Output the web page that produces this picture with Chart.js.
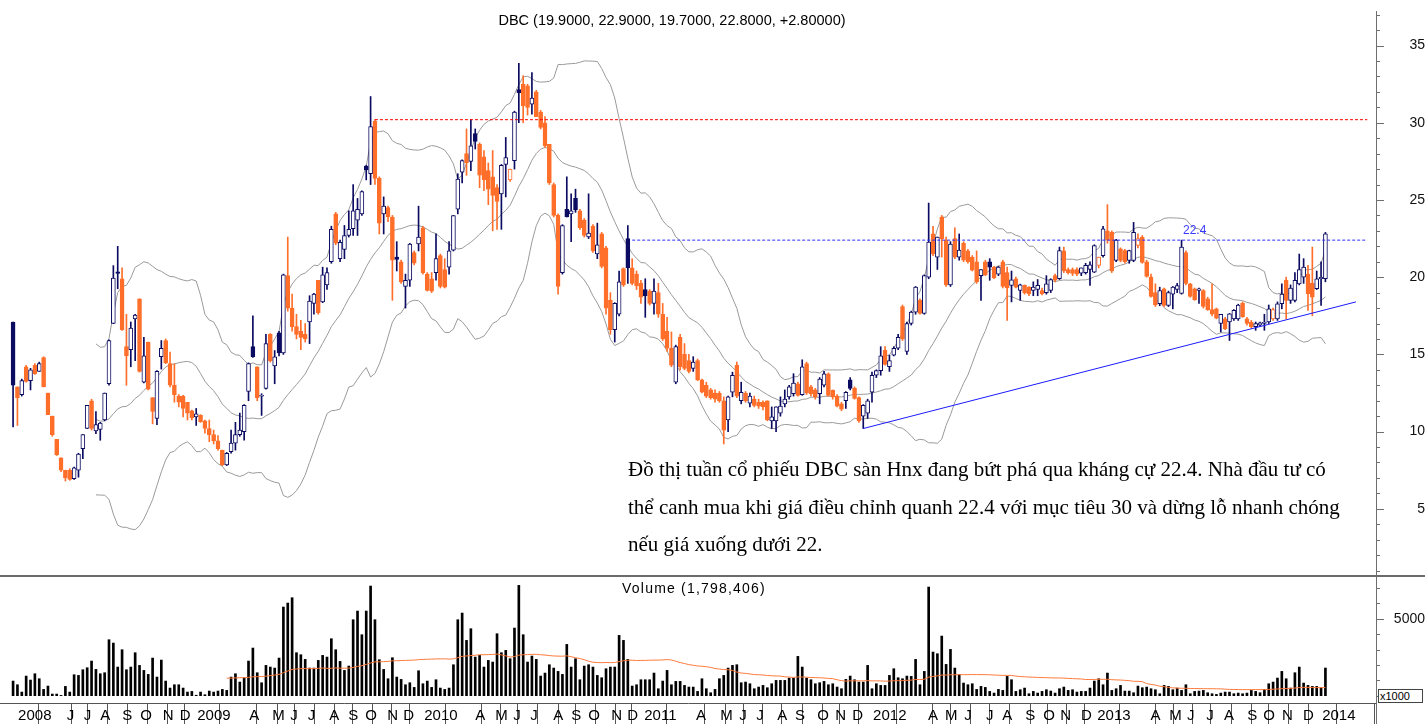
<!DOCTYPE html>
<html>
<head>
<meta charset="utf-8">
<script src="https://cdn.jsdelivr.net/npm/chart.js@4.4.1/dist/chart.umd.min.js"></script>
<style>
  body { margin: 0; background: #fff; width: 1425px; height: 724px; overflow: hidden; position: relative;
         font-family: Arial, "Liberation Sans", sans-serif; }
  canvas { position: absolute; left: 0; }
  #priceChart { top: 0; }
  #volChart { top: 577px; }
  .sep { position: absolute; left: 0; top: 575px; width: 1425px; height: 2px; background: #6b6b6b; }
  .txt { position: absolute; white-space: nowrap; color: #000; }
  #title { left: 372px; width: 600px; top: 11px; font-size: 14.5px; line-height: 18px; text-align: center; }
  #volTitle { left: 544px; width: 300px; top: 579px; font-size: 14px; line-height: 18px; text-align: center; letter-spacing: 1.2px; }
  #lvl { left: 1183px; top: 223px; font-size: 12px; line-height: 14px; color: #3a3aff; }
  #note { left: 628px; top: 451px; font-family: "Liberation Serif", "Times New Roman", serif; font-size: 21px; line-height: 37.5px; }
  #unit { left: 1378px; top: 689px; width: 42px; height: 12px; border: 1px solid #444; background: #fff;
          font-size: 11px; line-height: 12px; padding-left: 1px; }
</style>
</head>
<body>
<canvas id="priceChart" width="1425" height="576"></canvas>
<div class="sep"></div>
<canvas id="volChart" width="1425" height="147"></canvas>
<div class="txt" id="title">DBC (19.9000, 22.9000, 19.7000, 22.8000, +2.80000)</div>
<div class="txt" id="volTitle">Volume (1,798,406)</div>
<div class="txt" id="lvl">22.4</div>
<div class="txt" id="note">Đồ thị tuần cổ phiếu DBC sàn Hnx đang bứt phá qua kháng cự 22.4. Nhà đầu tư có<br>thể canh mua khi giá điều chỉnh quanh 22.4 với mục tiêu 30 và dừng lỗ nhanh chóng<br>nếu giá xuống dưới 22.</div>
<div class="txt" id="unit">x1000</div>
<script>
// weekly bars, DBC, spring 2008 -> Jan 2014
const open = [
  17.1,12.9,12.4,14.2,13.3,14.3,13.9,14.8,12.5,11.0,9.5,8.3,7.5,7.5,6.95,7.5,8.9,10.2,12.0,10.05,
  10.15,10.75,13.1,17.0,20.35,19.9,15.5,15.3,17.3,18.6,13.2,15.8,12.2,10.85,14.85,15.9,14.4,13.0,12.3,12.3,
  11.9,11.35,10.95,11.05,10.7,10.2,9.8,9.4,8.8,7.85,8.7,9.25,9.8,10.0,12.6,15.5,14.2,12.3,12.8,16.3,
  14.25,16.4,15.1,20.1,18.0,16.8,16.5,16.3,17.1,18.3,19.8,18.4,19.5,21.0,24.1,21.2,21.8,22.7,23.15,23.7,
  24.1,27.2,26.7,30.1,26.4,24.1,24.5,23.9,21.3,21.0,19.4,19.8,21.6,22.15,23.2,20.2,19.9,20.3,21.4,20.5,
  20.65,21.75,24.4,26.8,28.0,27.5,29.3,28.6,27.8,26.9,26.5,25.8,25.4,27.3,26.3,27.55,32.15,32.5,32.4,31.2,
  32.0,30.7,30.0,28.6,26.0,24.0,20.3,24.4,24.1,25.1,24.3,23.7,22.6,23.3,21.5,22.8,21.9,18.5,16.6,17.6,
  20.55,22.5,20.6,20.2,19.6,19.2,19.1,18.3,19.0,17.6,16.5,15.4,13.2,16.1,15.0,14.6,14.1,14.6,13.35,13.0,
  12.7,12.5,12.5,12.0,10.75,12.55,14.3,12.0,12.5,11.85,12.1,11.9,11.9,12.0,10.7,10.7,11.2,11.8,12.25,12.45,
  13.1,12.4,14.4,12.9,12.7,12.45,13.0,13.75,12.67,12.3,11.8,12.0,13.35,12.8,12.2,11.0,11.2,12.55,13.65,13.95,
  15.26,14.2,14.95,15.4,18.1,15.2,17.0,17.74,18.5,17.65,20.0,22.8,21.3,23.9,22.4,19.5,22.5,21.3,22.2,21.7,
  21.3,21.0,20.1,21.0,21.0,20.65,20.2,21.0,20.3,19.47,19.9,19.14,19.47,19.36,19.14,19.2,19.14,19.0,19.14,20.1,
  19.9,21.7,20.5,20.5,20.5,20.26,20.3,20.5,20.33,20.76,21.4,23.0,22.9,21.08,21.84,21.73,21.08,21.08,22.05,22.6,
  21.0,20.0,19.0,18.28,19.25,18.17,18.9,19.2,18.95,21.6,19.57,19.25,19.14,19.14,18.6,17.9,17.95,17.0,17.3,17.1,
  17.3,17.3,18.3,17.3,17.1,16.8,16.9,17.0,17.1,17.3,17.3,18.28,19.8,18.5,18.5,19.57,20.0,20.2,19.6,19.25,
  19.9,19.9
];
const high = [
  17.1,12.9,13.4,14.3,14.1,14.4,14.5,14.85,12.5,11.0,9.5,8.3,7.5,7.6,7.7,8.6,9.8,11.7,12.1,11.3,
  10.6,12.5,15.95,20.75,22.0,20.6,17.6,17.1,17.6,18.6,16.1,15.8,12.2,13.95,15.9,16.0,15.15,14.4,12.4,12.35,
  11.9,11.4,11.5,11.1,10.75,10.75,10.1,9.75,8.8,8.65,10.1,10.6,11.2,11.75,14.45,17.5,14.2,12.45,16.3,16.35,
  15.25,16.5,20.2,22.6,18.9,17.6,17.2,17.0,18.8,18.95,19.8,20.65,20.6,23.3,24.2,22.4,23.35,24.3,26.0,25.1,
  25.6,27.25,31.7,30.2,26.5,25.2,24.6,24.0,22.3,21.1,20.2,22.2,21.7,24.6,23.3,20.3,20.3,22.8,21.5,21.2,
  22.3,24.0,26.7,27.6,29.6,30.2,29.6,28.7,28.2,27.4,28.2,26.0,27.3,29.05,27.0,30.75,33.85,33.05,32.5,33.25,
  32.1,30.8,30.4,28.6,26.1,24.1,23.4,26.5,25.4,25.7,24.4,23.8,25.4,23.4,23.5,22.9,22.0,19.0,18.35,20.4,
  20.6,23.35,21.2,20.4,19.8,19.9,19.2,19.9,19.6,18.3,17.4,16.45,15.6,16.3,15.7,15.0,14.85,14.7,13.4,13.2,
  12.8,12.7,12.6,12.25,12.3,13.85,14.5,13.2,12.6,12.5,12.3,12.1,12.0,12.0,11.6,11.6,12.25,12.7,13.0,13.75,
  13.2,14.65,14.5,13.0,12.8,13.5,13.9,13.8,12.7,12.4,11.9,12.6,13.5,12.9,12.25,11.75,12.1,13.85,14.0,15.5,
  15.5,14.95,15.5,16.3,18.2,17.1,17.8,19.4,18.6,20.15,24.8,23.3,22.6,24.0,22.6,22.3,23.2,22.8,22.3,21.8,
  21.4,21.7,20.5,21.1,21.2,20.7,20.7,21.1,20.65,20.4,20.0,19.55,19.5,19.4,19.7,19.85,19.3,20.1,19.9,20.2,
  21.95,21.95,20.6,20.6,20.6,20.6,20.9,21.0,22.1,21.3,23.3,24.7,23.0,22.45,21.9,21.8,21.75,23.55,22.8,22.7,
  21.1,20.2,19.57,19.35,19.3,19.1,19.4,19.6,22.4,21.7,19.6,19.3,19.3,19.2,18.7,19.57,18.0,17.6,17.4,17.65,
  17.9,18.25,18.4,17.4,17.2,17.1,17.1,17.6,18.2,18.0,18.4,19.57,20.0,19.5,20.3,21.5,21.2,20.76,21.95,20.4,
  21.0,22.9
];
const low = [
  10.3,10.4,12.3,13.2,12.7,13.7,13.9,12.9,11.1,9.7,8.45,7.4,6.8,6.85,6.9,7.05,8.25,10.2,10.1,9.87,
  9.44,10.7,13.0,16.99,19.25,16.55,13.0,14.2,14.6,13.85,13.15,12.7,10.5,10.45,14.05,14.4,12.9,11.9,11.6,10.95,
  10.75,10.75,10.4,10.6,9.9,9.35,9.2,8.8,7.8,7.8,8.6,8.8,9.7,9.45,12.0,14.8,12.0,11.05,12.75,14.5,
  13.1,14.9,15.0,17.8,16.5,16.0,15.3,15.8,15.7,17.6,17.6,18.35,19.2,20.9,22.1,21.0,21.2,22.6,22.7,22.7,
  24.0,26.3,26.0,26.0,22.8,22.8,23.6,18.5,20.4,19.6,18.0,19.4,20.8,21.7,20.2,19.1,19.0,19.8,19.3,19.3,
  20.2,21.7,24.1,26.1,26.6,26.9,28.3,25.8,25.6,24.7,23.0,23.1,23.1,25.2,26.2,27.0,30.0,30.0,30.5,30.55,
  30.4,29.6,28.4,26.0,23.9,18.9,20.2,23.9,22.3,24.2,23.1,22.6,22.5,21.6,21.2,20.6,17.6,16.3,15.8,17.5,
  19.4,19.6,19.5,19.2,18.3,17.4,18.2,17.6,17.4,15.9,15.2,14.2,13.1,14.0,14.0,13.8,13.9,13.3,12.5,12.2,
  12.1,11.9,11.9,9.2,10.0,12.25,12.2,11.8,11.9,11.6,11.6,11.5,11.4,10.7,10.2,10.0,11.0,11.6,12.1,12.3,
  12.3,12.35,12.4,12.3,12.1,11.8,12.9,12.3,12.1,11.6,11.35,11.5,12.7,12.1,10.6,10.2,10.85,11.9,13.5,13.65,
  14.3,13.9,14.9,15.3,15.9,15.0,16.9,17.6,17.6,17.6,19.9,21.4,20.5,21.3,19.4,19.4,21.2,21.1,21.0,20.9,
  20.4,19.6,18.5,20.1,19.8,19.9,20.1,19.3,17.2,18.4,19.3,18.5,18.9,18.8,18.8,18.8,18.85,18.9,19.0,19.7,
  19.85,20.3,20.2,20.1,20.1,20.1,20.2,19.47,20.3,20.6,21.3,22.2,20.3,21.0,21.0,20.9,20.9,21.0,21.9,20.9,
  20.0,18.7,18.1,18.15,18.1,18.1,17.95,19.0,18.9,19.5,18.7,18.5,18.3,18.0,17.85,17.5,17.3,16.45,16.6,15.9,
  17.2,17.2,17.4,16.9,16.7,16.56,16.8,16.56,17.0,17.2,17.2,17.95,17.3,18.3,18.4,19.5,19.6,17.85,17.5,19.2,
  18.17,19.7
];
const close = [
  13.0,12.2,13.3,13.25,14.0,13.75,14.4,12.9,11.1,9.8,8.5,7.5,7.0,6.9,7.65,8.55,9.8,11.7,10.2,10.45,
  10.55,12.5,15.9,19.95,20.25,16.6,14.9,16.7,17.55,13.9,14.9,12.75,11.3,13.9,15.4,14.45,13.0,12.4,11.9,11.5,
  11.2,10.9,11.15,10.65,10.2,9.8,9.4,8.9,7.85,8.6,9.25,9.8,10.1,11.7,14.4,14.85,12.2,12.35,15.7,14.6,
  14.85,15.1,20.15,18.0,16.8,16.3,16.1,16.0,18.45,18.9,17.7,20.15,20.3,23.1,22.2,22.25,22.7,23.1,24.3,24.4,
  25.55,26.95,29.75,26.4,23.5,24.6,23.9,21.1,21.15,19.7,19.8,22.15,20.9,22.6,20.3,19.15,19.1,21.2,19.4,19.35,
  21.7,23.99,26.35,27.55,27.4,28.5,28.8,26.6,26.3,25.7,25.3,24.9,27.25,27.75,27.0,30.7,31.95,31.1,31.0,31.6,
  30.4,29.7,28.5,26.1,24.0,19.4,23.35,23.9,24.3,24.35,23.2,22.7,22.85,21.7,22.1,20.7,18.0,16.6,18.3,19.7,
  19.5,20.6,19.6,19.45,18.7,18.8,18.3,19.1,17.6,16.0,15.4,14.3,15.5,14.2,14.1,13.9,14.5,13.35,12.55,12.3,
  12.2,12.1,12.0,10.1,12.25,13.65,12.3,12.55,12.0,12.3,11.7,11.65,11.6,10.75,10.95,11.6,11.65,12.1,12.9,13.15,
  12.35,14.2,12.5,12.45,12.25,13.4,13.75,12.35,12.25,11.65,11.45,12.55,12.8,12.15,10.7,11.7,12.0,13.65,13.95,14.9,
  14.35,14.6,15.4,16.1,16.0,17.0,17.74,19.36,17.65,20.1,22.27,21.5,22.6,22.5,19.5,22.15,21.3,21.75,21.1,21.0,
  20.45,19.7,20.5,20.15,20.65,19.95,20.65,19.4,19.3,19.83,19.36,19.5,19.0,18.93,19.36,19.47,18.93,19.57,19.85,19.8,
  21.73,20.4,20.3,20.25,20.2,20.6,20.76,20.8,22.05,21.3,23.13,22.4,20.4,22.4,21.08,21.0,21.73,22.9,22.5,20.95,
  20.05,18.75,18.2,19.14,18.17,19.0,19.36,19.45,21.95,19.6,18.75,18.55,19.25,18.1,17.9,17.6,17.35,17.6,16.66,17.63,
  17.85,18.2,17.45,17.0,16.8,17.0,17.05,17.1,17.95,17.9,18.28,18.9,18.5,19.3,19.8,20.5,20.65,18.93,18.7,19.9,
  20.0,22.8
];
// volume, thousands of shares
const volume = [
  950,712,236,1275,1015,1427,1102,409,626,106,106,20,604,236,1362,1318,1686,1816,2250,1708,
  1427,1492,3635,3418,1860,2986,1686,1860,2791,1968,1643,1384,2444,1210,2314,950,496,712,712,496,
  236,279,30,236,63,301,236,301,409,344,1210,1427,886,1167,2250,3094,1492,842,1968,1860,
  1795,2444,5757,6016,6363,2791,2661,2358,1795,1795,2293,2617,2509,3700,2986,2228,1643,1925,4934,5497,
  3960,5497,7121,4934,2336,1708,1102,2466,1210,1059,712,842,539,1621,777,950,539,1037,496,409,
  496,2011,4934,5367,3592,4350,2509,2617,1860,2293,2185,4025,2791,2942,2401,4393,7164,3960,2185,2574,
  2358,1275,1470,2011,1795,1578,1384,3332,1860,2401,1037,1925,2011,1860,1318,1167,1751,1860,1860,3917,
  3592,2358,626,712,1037,1037,1037,1470,453,950,1643,712,929,929,669,561,561,279,1102,453,
  193,409,1102,1318,1795,1968,2011,842,886,777,453,561,669,518,777,994,994,994,1145,1145,
  2553,1860,1145,1037,777,842,929,712,777,561,453,1059,1275,1037,886,886,1968,453,777,669,
  669,1318,1751,1167,1102,1275,1254,2358,712,1578,7056,2834,2726,3873,2033,3007,1795,1384,820,712,
  777,409,604,539,279,171,409,344,1254,1037,279,388,496,128,279,171,279,388,301,171,
  453,561,344,388,236,279,279,496,950,1102,712,1470,344,453,669,301,301,193,626,518,
  561,453,388,128,669,604,388,496,344,712,128,279,301,344,193,128,84,171,236,236,
  128,171,128,171,344,279,193,409,777,886,1145,1578,1102,496,1492,1860,820,669,604,604,
  518,1798
];
// axis months: week index of each month boundary and its label
const tickWeek = [0.2,11.35,15.25,19.04,24.08,28.21,33.37,37.27,41.28,53.21,58.49,62.61,66.63,71.56,75.92,79.82,84.86,88.53,
  93.35,105.05,109.63,113.76,117.66,122.94,127.06,130.96,136.24,139.91,143.81,155.7,161.24,165.6,169.5,174.3,178.4,183.5,187.6,191.5,
  196.3,208.9,212.8,217.2,222.2,225.9,231.2,235.3,239.2,244.0,247.7,259.9,264.2,268.3,272.7,276.8,282.1,285.8,290.1,294.9,299.3,308.0];
const tickText = ['2008','J','J','A','S','O','N','D','2009','A','M','J','J','A','S','O','N','D',
  '2010','A','M','J','J','A','S','O','N','D','2011','A','M','J','J','A','S','O','N','D',
  '2012','A','M','J','J','A','S','O','N','D','2013','A','M','J','J','A','S','O','N','D','2014',''];
const priceLabels = [5, 10, 15, 20, 25, 30, 35];
const volumeLabels = [5000];

const resistance = 22.4;          // blue dashed line
const resistanceFrom = 142;
const target = 30.2;              // red dashed line
const targetFrom = 83;
const lineEnd = 310.6;
const trendStart = {x: 195, y: 10.2};
const trendEnd = {x: 308, y: 18.4};

const NAVY = '#0b0b62';
const ORANGE = '#ff6f2a';
const BAND = '#9a9a9a';
const AXIS = '#6f6f6f';
const X_MIN = -3, X_MAX = 312.6;

Chart.defaults.font.family = 'Arial, "Liberation Sans", sans-serif';
Chart.defaults.animation = false;

const isUp = i => i === 0 || close[i] >= close[i - 1];
const n = close.length;
const wicks = [], bodies = [], bodyFill = [], bodyLine = [], wickCol = [];
for (let i = 0; i < n; i++) {
  wicks.push({x: i, y: [low[i], high[i]]});
  bodies.push({x: i, y: [Math.min(open[i], close[i]), Math.max(open[i], close[i])]});
  const c = isUp(i) ? NAVY : ORANGE;
  wickCol.push(c);
  bodyLine.push(c);
  bodyFill.push(close[i] > open[i] ? '#ffffff' : c);
}

// bollinger 20, 2
const BB_N = 20;
const mid = [], upper = [], lower = [];
for (let i = BB_N - 1; i < n; i++) {
  const w = close.slice(i - BB_N + 1, i + 1);
  const m = w.reduce((a, b) => a + b, 0) / BB_N;
  const sd = Math.sqrt(w.reduce((a, b) => a + (b - m) * (b - m), 0) / BB_N);
  mid.push({x: i, y: m});
  upper.push({x: i, y: m + 2 * sd});
  lower.push({x: i, y: m - 2 * sd});
}

// volume moving average, 50
const MA_N = 50;
const volMa = [];
for (let i = MA_N - 1; i < n; i++) {
  let s = 0;
  for (let k = i - MA_N + 1; k <= i; k++) s += volume[k];
  volMa.push({x: i, y: s / MA_N});
}

// right axis line + small tick marks, longer ones where a label sits
function sideTicks(values, isMajor, topY, extendDown) {
  return {
    id: 'sideTicks',
    afterDraw(chart) {
      const {ctx, chartArea} = chart;
      const y = chart.scales.y;
      const ax = chartArea.right + 0.5;
      ctx.save();
      ctx.strokeStyle = AXIS;
      ctx.lineWidth = 1;
      ctx.beginPath();
      ctx.moveTo(ax, topY);
      ctx.lineTo(ax, extendDown ? chart.height : chartArea.bottom);
      ctx.stroke();
      values.forEach(v => {
        const py = Math.round(y.getPixelForValue(v)) + 0.5;
        const len = isMajor(v) ? 8 : 4;
        ctx.beginPath();
        ctx.moveTo(chartArea.right, py);
        ctx.lineTo(chartArea.right + len, py);
        ctx.stroke();
      });
      ctx.restore();
    }
  };
}

const noPad = s => { s.paddingTop = 0; s.paddingBottom = 0; s.paddingLeft = 0; s.paddingRight = 0; };

const lineSet = (data, color, dash, order) => ({
  type: 'line', data: data, borderColor: color, borderWidth: 1, borderDash: dash || [],
  pointRadius: 0, tension: 0, fill: false, order: order
});

const priceValues = [];
for (let v = 1; v <= 37; v++) priceValues.push(v);

new Chart(document.getElementById('priceChart'), {
  type: 'bar',
  data: {
    datasets: [
      lineSet(upper, BAND, null, 3),
      lineSet(mid, BAND, null, 3),
      lineSet(lower, BAND, null, 3),
      lineSet([{x: targetFrom, y: target}, {x: lineEnd, y: target}], '#ff0000', [3, 2], 0),
      lineSet([{x: resistanceFrom, y: resistance}, {x: lineEnd, y: resistance}], '#2f2fff', [3, 2], 0),
      lineSet([trendStart, trendEnd], '#1a1aff', null, 0),
      {data: wicks, backgroundColor: wickCol, borderWidth: 0, barThickness: 1, grouped: false, order: 2},
      {data: bodies, backgroundColor: bodyFill, borderColor: bodyLine, borderWidth: 1, borderSkipped: false,
       barThickness: 4, grouped: false, order: 1}
    ]
  },
  options: {
    responsive: false,
    layout: {padding: 0},
    plugins: {legend: {display: false}, tooltip: {enabled: false}},
    scales: {
      x: {type: 'linear', min: X_MIN, max: X_MAX, offset: false, display: false},
      y: {
        position: 'right', min: 0.65, max: 37.95,
        afterFit(s) { s.width = 49; noPad(s); },
        afterBuildTicks(s) { s.ticks = priceLabels.map(v => ({value: v})); },
        border: {display: false},
        grid: {drawOnChartArea: false, drawTicks: true, tickLength: 30, tickColor: 'rgba(0,0,0,0)'},
        ticks: {crossAlign: 'far', padding: 0, color: '#111', font: {size: 14}, callback: v => String(v)}
      }
    }
  },
  plugins: [sideTicks(priceValues, v => v % 5 === 0, 11, false)]
});

new Chart(document.getElementById('volChart'), {
  type: 'bar',
  data: {
    datasets: [
      lineSet(volMa, '#ff7a3c', null, 0),
      {data: volume.map((v, i) => ({x: i, y: v})), backgroundColor: '#000', barThickness: 2, grouped: false, order: 1}
    ]
  },
  options: {
    responsive: false,
    layout: {padding: 0},
    plugins: {legend: {display: false}, tooltip: {enabled: false}},
    scales: {
      x: {
        type: 'linear', min: X_MIN, max: X_MAX, offset: false, position: 'bottom',
        afterFit(s) { s.height = 21; noPad(s); },
        afterBuildTicks(s) { s.ticks = tickWeek.map(v => ({value: v})); },
        border: {color: '#555', width: 1},
        grid: {drawOnChartArea: false, drawTicks: true, tickLength: 21, color: '#555'},
        ticks: {align: 'start', padding: -17, autoSkip: false, maxRotation: 0, minRotation: 0,
                color: '#000', font: {size: 15}, callback: (v, i) => ' ' + tickText[i]}
      },
      y: {
        position: 'right', min: -474, max: 7708,
        afterFit(s) { s.width = 49; noPad(s); },
        afterBuildTicks(s) { s.ticks = volumeLabels.map(v => ({value: v})); },
        border: {display: false},
        grid: {drawOnChartArea: false, drawTicks: true, tickLength: 14, tickColor: 'rgba(0,0,0,0)'},
        ticks: {crossAlign: 'far', padding: 0, color: '#111', font: {size: 14}, callback: v => String(v)}
      }
    }
  },
  plugins: [sideTicks([0, 1000, 2000, 3000, 4000, 5000, 6000, 7000], v => v === 5000, 0, true)]
});
</script>
</body>
</html>
